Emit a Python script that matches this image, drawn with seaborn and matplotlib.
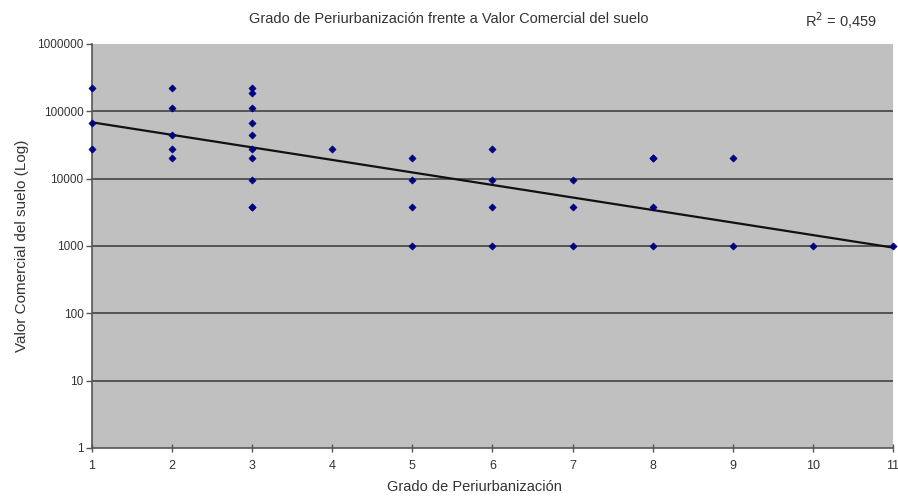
import numpy as np
import pandas as pd
import matplotlib
matplotlib.use("Agg")
import matplotlib.pyplot as plt
import seaborn as sns
from matplotlib.ticker import FixedLocator, FixedFormatter, NullLocator

sns.set_theme(style="white")
plt.rcParams['font.family'] = ['Liberation Sans', 'DejaVu Sans']

title = "Grado de Periurbanización frente a Valor Comercial del suelo"
xlabel = "Grado de Periurbanización"
ylabel = "Valor Comercial del suelo (Log)"
r2_text = "R$^2$ = 0,459"

grado = [1, 1, 1,
         2, 2, 2, 2, 2,
         3, 3, 3, 3, 3, 3, 3, 3, 3, 3,
         4,
         5, 5, 5, 5,
         6, 6, 6, 6,
         7, 7, 7,
         8, 8, 8, 8,
         9, 9,
         10,
         11]
valor = [225000, 67000, 28000,
         225000, 112000, 44000, 28000, 20000,
         225000, 190000, 112000, 67000, 45000, 28000, 20000, 9500, 3800, 3800,
         28000,
         20000, 9500, 3800, 1000,
         28000, 9500, 3800, 1000,
         9500, 3800, 1000,
         20000, 20000, 3800, 1000,
         20000, 1000,
         1000,
         1000]

y_ticks = [1, 10, 100, 1000, 10000, 100000, 1000000]
y_ticklabels = ["1", "10", "100", "1000", "10000", "100000", "1000000"]
x_ticks = list(range(1, 12))

df = pd.DataFrame({"grado": grado, "valor": valor})

# exponential trend (linear fit on log10 of values)
coef = np.polyfit(df["grado"], np.log10(df["valor"]), 1)
trend = pd.DataFrame({"grado": x_ticks})
trend["valor"] = 10 ** np.polyval(coef, trend["grado"])

fig = plt.figure(figsize=(8.98, 4.97), dpi=100)
ax = fig.add_axes([0.1024, 0.0986, 0.8920, 0.8129])
ax.set_facecolor("#c0c0c0")

ax.set_yscale("log")
ax.set_ylim(1, 1000000)
ax.set_xlim(1, 11)

for t in y_ticks[1:-1]:
    ax.axhline(t, color="#555555", lw=1.4, zorder=1)

sns.lineplot(data=trend, x="grado", y="valor", ax=ax, color="#111111", lw=1.6,
             zorder=3, clip_on=False)
sns.scatterplot(data=df, x="grado", y="valor", ax=ax, marker="D", s=13,
                color="#000080", edgecolor="#000080", linewidth=0.5, zorder=4,
                clip_on=False)

ax.yaxis.set_major_locator(FixedLocator(y_ticks))
ax.yaxis.set_major_formatter(FixedFormatter(y_ticklabels))
ax.yaxis.set_minor_locator(NullLocator())
ax.set_xticks(x_ticks)
ax.set_xticklabels([str(v) for v in x_ticks])

for s in ["top", "right"]:
    ax.spines[s].set_visible(False)
for s in ["left", "bottom"]:
    ax.spines[s].set_color("#555555")
    ax.spines[s].set_linewidth(1.2)

ax.tick_params(axis="y", direction="out", length=4, width=1, color="#555555",
               labelsize=8.5, labelcolor="#333333", pad=2, left=True)
ax.tick_params(axis="x", direction="inout", length=6, width=1, color="#555555",
               labelsize=9, labelcolor="#333333", pad=6, bottom=True)

ax.set_xlabel(xlabel, fontsize=10.5, color="#333333")
ax.xaxis.set_label_coords(0.478, -0.08)
ax.set_ylabel(ylabel, fontsize=11, color="#333333", labelpad=6)

fig.text(0.5, 0.962, title, ha="center", va="center", fontsize=10.5, color="#333333")
fig.text(0.937, 0.958, r2_text, ha="center", va="center", fontsize=10.5, color="#333333")

fig.savefig("out.png", dpi=100)
